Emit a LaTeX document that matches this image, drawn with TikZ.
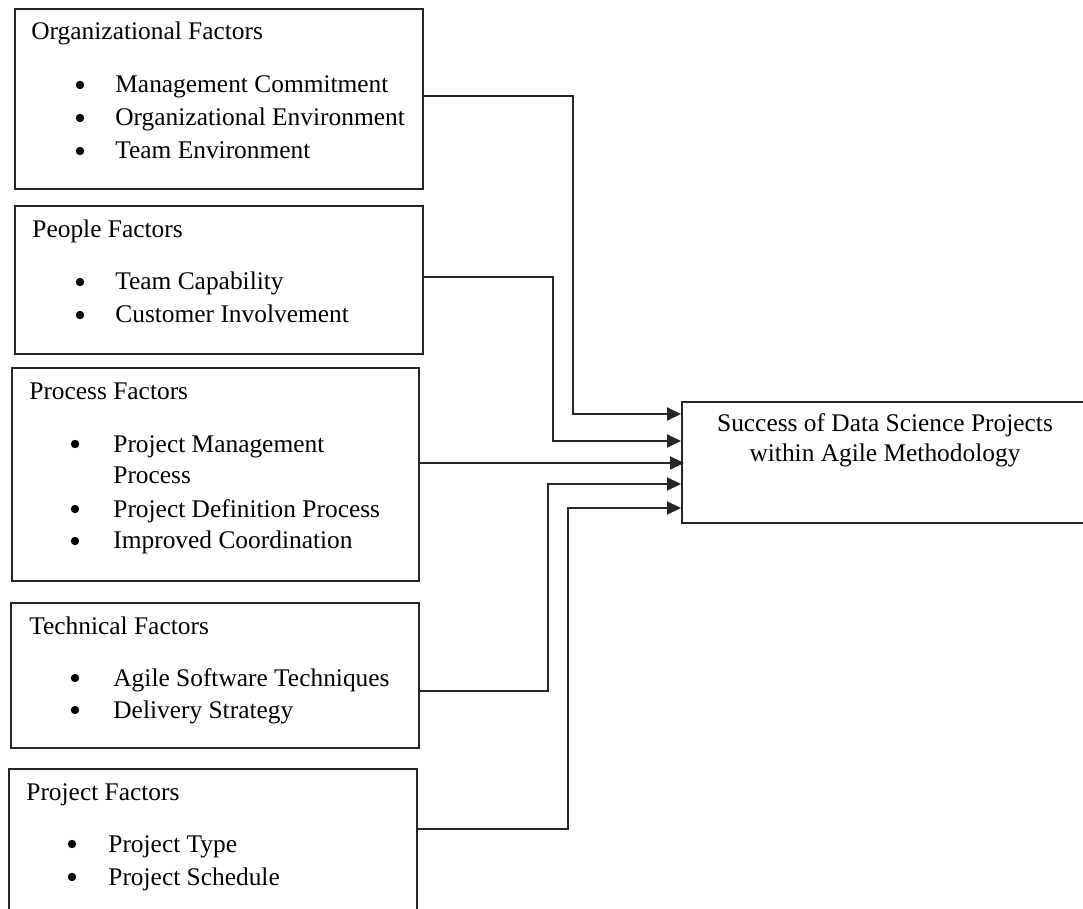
\documentclass[tikz,border=0pt]{standalone}
\usepackage{fontspec}
\setmainfont{Liberation Serif}
\usetikzlibrary{arrows.meta}
\begin{document}
\begin{tikzpicture}[x=0.5pt,y=-0.5pt,
  box/.style={draw=black!85, line width=0.9pt, rectangle, anchor=north west, inner sep=0pt},
  txt/.style={inner sep=0pt, anchor=base west, font=\fontsize{12.7}{15}\selectfont},
  ctxt/.style={inner sep=0pt, anchor=base, font=\fontsize{12.7}{15}\selectfont},
  bul/.style={circle, fill=black, inner sep=0pt, minimum size=4.2pt, yshift=4pt},
  conn/.style={draw=black!85, line width=1.05pt, -{Triangle[length=7pt,width=6.5pt]}}]
\useasboundingbox (0,0) rectangle (1083,909);
\fill[white] (0,0) rectangle (1083,909);

% boxes
\node[box, minimum width=204pt, minimum height=90pt] (b1) at (14,8) {};
\node[box, minimum width=204pt, minimum height=74pt] (b2) at (14,205) {};
\node[box, minimum width=203.5pt, minimum height=106.5pt] (b3) at (11,367) {};
\node[box, minimum width=204pt, minimum height=72.5pt] (b4) at (10,602) {};
\node[box, minimum width=204pt, minimum height=90pt] (b5) at (8,768) {};
\node[box, minimum width=204pt, minimum height=60.5pt] (succ) at (681,401) {};

% Organizational
\node[txt] (t1) at (31,40) {Organizational Factors};
\node[bul] (b1a) at (80,93) {};
\node[txt] (i1a) at (115,93) {Management Commitment};
\node[bul] (b1b) at (80,126) {};
\node[txt] (i1b) at (115,126) {Organizational Environment};
\node[bul] (b1c) at (80,159) {};
\node[txt] (i1c) at (115,159) {Team Environment};

% People
\node[txt] (t2) at (32,238) {People Factors};
\node[bul] (b2a) at (80,290) {};
\node[txt] (i2a) at (115,290) {Team Capability};
\node[bul] (b2b) at (80,323) {};
\node[txt] (i2b) at (115,323) {Customer Involvement};

% Process
\node[txt] (t3) at (29,400) {Process Factors};
\node[bul] (b3a) at (75,452) {};
\node[txt] (i3a) at (113,452) {Project Management};
\node[txt] (i3a2) at (113,484) {Process};
\node[bul] (b3b) at (75,517) {};
\node[txt] (i3b) at (113,517) {Project Definition Process};
\node[bul] (b3c) at (75,549) {};
\node[txt] (i3c) at (113,549) {Improved Coordination};

% Technical
\node[txt] (t4) at (29,634) {Technical Factors};
\node[bul] (b4a) at (75,686) {};
\node[txt] (i4a) at (113,686) {Agile Software Techniques};
\node[bul] (b4b) at (75,718) {};
\node[txt] (i4b) at (113,718) {Delivery Strategy};

% Project
\node[txt] (t5) at (26,800) {Project Factors};
\node[bul] (b5a) at (72,852) {};
\node[txt] (i5a) at (108,852) {Project Type};
\node[bul] (b5b) at (72,885) {};
\node[txt] (i5b) at (108,885) {Project Schedule};

% Success
\node[ctxt] (s1) at (885,432) {Success of Data Science Projects};
\node[ctxt] (s2) at (885,462) {within Agile Methodology};

% connectors
\draw[conn] (b1.east |- 0,96) -| (573,414) -- (succ.west |- 0,414);
\draw[conn] (b2.east |- 0,277) -| (553,441) -- (succ.west |- 0,441);
\draw[conn] (b3.east |- 0,463) -- ([xshift=1.5pt]succ.west |- 0,463);
\draw[conn] (b4.east |- 0,691) -| (548,484) -- (succ.west |- 0,484);
\draw[conn] (b5.east |- 0,829) -| (568,508) -- (succ.west |- 0,508);
\end{tikzpicture}
\end{document}
